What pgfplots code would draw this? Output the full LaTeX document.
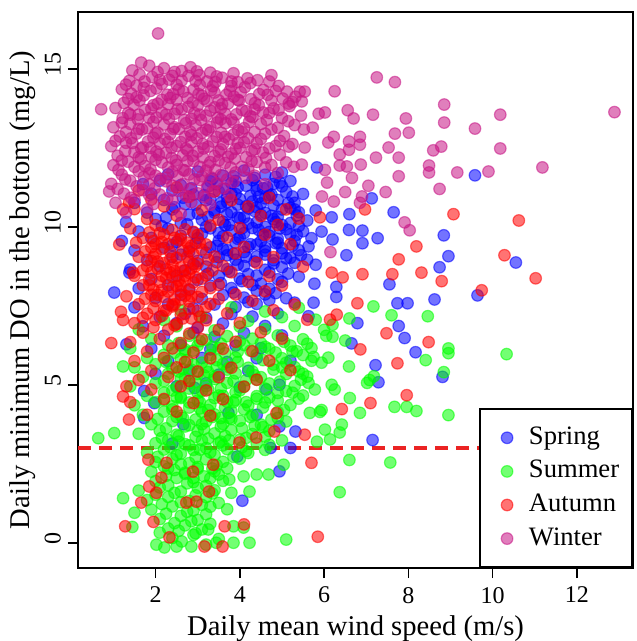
\documentclass[border=0pt]{standalone}
\usepackage{fontspec}
\setmainfont{Liberation Serif}
\usepackage{pgfplots}
\pgfplotsset{compat=1.18}

\definecolor{spring}{RGB}{0,0,255}
\definecolor{summer}{RGB}{0,255,0}
\definecolor{autumn}{RGB}{255,0,0}
\definecolor{winter}{RGB}{199,21,133}
\definecolor{doline}{RGB}{235,35,35}

\pgfplotsset{
  season/.style={only marks, mark=*, mark size=2.9pt, color=#1,
    mark options={draw=#1, fill=#1, draw opacity=0.55, fill opacity=0.55, line width=0.6pt}},
}
\newcommand{\legfont}{\fontsize{13.3}{16}\selectfont}

\begin{document}
\begin{tikzpicture}
\begin{axis}[
  scale only axis, width=277.5pt, height=278pt,
  xmin=0.16, xmax=13.33, ymin=-0.8, ymax=16.8,
  xtick={2,4,6,8,10,12}, ytick={0,5,10,15},
  tick align=outside, xtick pos=left, ytick pos=left,
  major tick length=5pt,
  axis line style={line width=0.9pt}, tick style={black, line width=0.8pt},
  /pgf/number format/assume math mode=true,
  ticklabel style={font=\fontsize{12}{14}\selectfont},
  yticklabel style={rotate=90, anchor=south, xshift=2pt},
  xticklabel style={yshift=-1pt},
  xlabel={Daily mean wind speed (m/s)},
  ylabel={Daily minimum DO in the bottom (mg/L)},
  label style={font=\fontsize{14.3}{17}\selectfont},
  xlabel style={at={(axis description cs:0.5,0)}, anchor=center, yshift=-30.5pt},
  ylabel style={at={(axis description cs:0,0.5)}, anchor=center, yshift=27.5pt},
  legend style={at={(1,0)}, anchor=south east, draw=black, line width=0.9pt, fill=white,
    inner xsep=4.5pt, inner ysep=6pt, row sep=0.3pt,
    nodes={inner sep=2pt, text height=9.5pt, text depth=3pt}},
  legend cell align=left,
  legend image code/.code={\path (0pt,0pt) (17pt,0pt); \draw[#1] plot coordinates {(8.5pt,0pt)};},
]
\coordinate (sw) at (rel axis cs:0,0);
\coordinate (ne) at (rel axis cs:1,1);

% Spring
\addplot[season=spring] coordinates {
(9.58,11.63) (8.84,9.73) (10.55,8.87) (9.64,7.83) (8.95,9.07) (8.74,8.72) (7.65,10.46) (7.13,10.90)
(7.27,9.64) (6.91,9.88) (6.91,9.48) (6.53,9.10) (6.60,10.40) (6.18,10.30) (6.20,9.60) (7.55,8.18)
(6.29,8.10) (6.29,7.78) (5.77,8.20) (7.74,7.58) (7.98,7.58) (8.62,7.70) (6.79,6.95) (7.77,6.86)
(7.91,6.48) (6.65,6.31) (8.17,6.03) (7.22,5.62) (8.81,5.25) (7.29,5.08) (7.15,3.25) (5.83,11.88)
(5.75,7.60) (5.63,7.17) (6.59,9.90) (5.94,9.85) (5.63,9.38) (5.80,8.80) (1.73,4.80) (4.94,3.68)
(5.32,3.52) (5.20,3.00) (4.73,3.00) (4.94,2.26) (4.06,1.33) (3.94,2.73) (2.40,3.14) (2.66,3.75)
(1.73,3.95) (1.97,4.42) (2.93,4.90) (3.73,4.11) (4.40,4.05) (4.63,4.85) (4.94,5.00) (1.02,7.92)
(1.38,8.55) (1.31,6.28)
(2.30,11.66) (3.00,11.75) (3.60,11.62) (4.10,11.78) (4.60,11.65) (5.00,11.72)
(1.70,11.35) (2.10,11.46) (2.60,11.32) (3.30,11.44) (3.80,11.38) (4.30,11.48) (4.80,11.36) (5.20,11.45)
(1.90,11.05) (2.40,11.15) (2.90,11.02) (3.50,11.12) (3.90,11.04) (4.40,11.16) (4.70,11.00) (5.10,11.10) (5.50,11.04)
(1.50,10.76) (2.20,10.85) (2.70,10.72) (3.20,10.84) (3.70,10.78) (4.00,10.88) (4.50,10.74) (4.90,10.85) (5.30,10.76)
(1.80,10.45) (2.40,10.55) (3.00,10.42) (3.40,10.52) (3.80,10.46) (4.20,10.58) (4.60,10.44) (5.00,10.55) (5.40,10.46) (5.80,10.52)
(1.30,10.15) (2.00,10.25) (2.60,10.12) (3.10,10.22) (3.60,10.16) (4.00,10.28) (4.40,10.14) (4.80,10.24) (5.20,10.12) (5.60,10.20)
(1.60,9.85) (2.30,9.94) (2.90,9.82) (3.30,9.95) (3.80,9.88) (4.30,9.96) (4.70,9.84) (5.10,9.92) (5.50,9.86)
(1.20,9.55) (1.90,9.65) (2.50,9.52) (3.00,9.64) (3.50,9.56) (4.00,9.66) (4.50,9.54) (4.90,9.62) (5.30,9.55) (5.70,9.64)
(1.50,9.25) (2.20,9.34) (2.80,9.22) (3.30,9.35) (3.70,9.26) (4.20,9.36) (4.60,9.24) (5.00,9.32) (5.40,9.26)
(1.80,8.95) (2.40,9.05) (3.00,8.92) (3.50,9.04) (3.90,8.96) (4.40,9.06) (4.80,8.94) (5.20,9.02) (5.60,8.96)
(1.40,8.65) (2.10,8.75) (2.70,8.62) (3.20,8.74) (3.70,8.66) (4.10,8.76) (4.60,8.64) (5.00,8.72)
(1.90,8.35) (2.50,8.45) (3.00,8.32) (3.50,8.44) (4.00,8.36) (4.40,8.46) (4.90,8.34) (5.40,8.42)
(1.60,8.05) (2.30,8.15) (2.80,8.02) (3.30,8.14) (3.80,8.06) (4.30,8.16) (4.70,8.04)
(2.00,7.75) (2.60,7.85) (3.10,7.72) (3.60,7.84) (4.10,7.76) (4.60,7.86) (5.10,7.74)
(1.50,7.45) (2.30,7.55) (2.90,7.42) (3.40,7.54) (3.90,7.46) (4.40,7.56)
(2.10,7.15) (2.70,7.25) (3.20,7.12) (3.80,7.24) (4.30,7.16) (4.90,7.26)
(1.70,6.85) (2.50,6.95) (3.00,6.82) (3.60,6.94) (4.60,6.86)
(2.20,6.55) (2.90,6.65) (3.40,6.52) (4.10,6.64) (5.00,6.56)
(1.90,6.15) (2.60,6.25) (3.30,6.12) (3.90,6.24) (4.50,6.16)
(2.30,5.75) (3.10,5.85) (3.70,5.72) (4.40,5.84) (5.20,5.76)
(2.00,5.35) (2.80,5.45) (3.50,5.32) (4.20,5.44)
(2.50,4.95) (3.20,5.05) (4.00,4.92)
(3.65,10.05) (4.15,10.65) (4.55,9.75) (3.95,11.25) (4.75,10.35) (4.25,9.45) (3.85,9.15) (4.45,10.95)
(3.55,10.75) (4.95,9.95) (4.05,9.95) (4.65,11.25)
(3.35,11.52) (3.85,11.60) (4.35,11.55) (4.85,11.58)
(2.85,11.22) (3.25,11.28) (3.65,11.20) (4.15,11.30) (4.55,11.22) (5.00,11.28)
(2.65,10.92) (3.15,11.00) (3.70,10.94) (4.25,10.98) (4.60,10.90) (5.25,10.96)
(2.45,10.62) (2.95,10.70) (3.55,10.64) (3.95,10.70) (4.40,10.62) (4.80,10.68) (5.20,10.60)
(2.25,10.30) (2.80,10.38) (3.25,10.32) (3.70,10.40) (4.10,10.30) (4.50,10.38) (4.90,10.32) (5.35,10.36)
(2.15,10.02) (2.75,10.08) (3.20,10.00) (3.75,10.06) (4.20,10.10) (4.60,10.00) (5.00,10.06) (5.40,10.02)
(2.60,9.72) (3.10,9.78) (3.60,9.70) (4.10,9.80) (4.70,9.72) (5.20,9.76)
(2.40,9.42) (2.95,9.48) (3.45,9.40) (3.90,9.50) (4.40,9.44) (4.85,9.48) (5.25,9.40)
(2.60,9.12) (3.20,9.18) (3.70,9.10) (4.10,9.20) (4.60,9.12) (5.00,9.16) (5.45,9.10)
(2.90,8.82) (3.45,8.88) (3.95,8.80) (4.35,8.90) (4.80,8.84) (5.30,8.86)
(3.25,8.52) (3.75,8.58) (4.20,8.50) (4.70,8.56) (5.15,8.52)
(3.55,8.22) (4.05,8.28) (4.50,8.20) (5.00,8.26)
(3.85,7.92) (4.40,7.98) (4.85,7.90)
(4.20,7.62) (4.70,7.68) (5.30,7.60)
(3.45,11.35) (3.90,11.45) (4.40,11.30) (4.95,11.40)
(3.30,10.88) (3.80,11.05) (4.30,10.80) (4.75,11.02) (5.15,10.75)
(3.40,10.45) (3.95,10.30) (4.35,10.50) (4.85,10.15) (5.30,10.55)
(3.50,9.80) (3.95,9.62) (4.45,9.90) (4.90,9.50) (5.35,9.75)
(3.60,9.30) (4.15,9.05) (4.60,9.35) (5.10,9.00)
};
\addlegendentry{\legfont Spring}

% Summer
\addplot[season=summer] coordinates {
(0.64,3.31) (1.02,3.47) (1.23,1.41) (1.50,0.95) (1.45,0.50) (2.02,-0.06) (2.21,-0.15) (2.50,-0.12)
(2.62,0.04) (2.85,-0.12) (3.20,-0.06) (3.44,0.00) (3.85,0.00) (4.23,0.00) (3.25,0.42) (3.85,0.52)
(4.09,0.48) (5.10,0.10) (6.37,1.60) (6.60,2.62) (3.80,1.58) (4.23,1.62) (3.75,2.00) (4.09,2.10)
(4.40,2.16) (4.68,2.16) (5.04,2.47) (5.83,3.20) (6.14,3.27) (6.02,3.58) (6.42,3.74) (6.37,3.49)
(6.85,4.11) (6.61,4.58) (5.90,4.14) (5.66,4.11) (6.18,5.00) (7.02,5.06) (1.23,5.58) (10.33,5.97)
(8.95,6.15) (8.95,6.00) (8.41,5.78) (8.84,5.40) (7.08,5.15) (7.67,4.30) (7.96,4.30) (8.19,4.17)
(8.95,4.04) (7.17,7.48) (7.60,7.20) (8.46,7.17) (5.75,5.88) (5.94,5.70) (5.63,5.06) (5.78,4.85)
(6.25,4.85) (6.59,5.58) (7.18,5.27) (5.94,4.20) (7.57,2.54) (6.20,6.90) (6.50,6.40) (6.05,6.55) (6.60,7.10)
(2.60,7.35) (3.80,7.45) (4.60,7.32) (5.40,7.44)
(2.20,7.05) (3.10,7.15) (4.20,7.02) (5.00,7.14) (5.80,7.06)
(1.60,6.75) (2.50,6.85) (3.40,6.72) (4.00,6.84) (4.60,6.76) (5.30,6.86) (6.00,6.74)
(1.90,6.45) (2.80,6.55) (3.20,6.42) (3.70,6.54) (4.30,6.46) (4.90,6.56) (5.50,6.44) (6.20,6.52)
(1.40,6.15) (2.30,6.25) (2.70,6.12) (3.00,6.24) (3.50,6.16) (4.10,6.26) (4.70,6.14) (5.20,6.24) (5.70,6.16)
(1.80,5.85) (2.20,5.95) (2.60,5.82) (3.30,5.94) (3.90,5.86) (4.40,5.96) (5.00,5.84) (5.50,5.94) (6.10,5.86)
(1.50,5.55) (2.00,5.65) (2.40,5.52) (2.90,5.64) (3.20,5.56) (3.60,5.66) (4.20,5.54) (4.80,5.64) (5.30,5.56)
(1.70,5.25) (2.30,5.35) (2.70,5.22) (3.00,5.34) (3.40,5.26) (3.90,5.36) (4.50,5.24) (5.10,5.34) (5.60,5.26)
(1.40,4.95) (2.00,5.05) (2.50,4.92) (2.80,5.04) (3.20,4.96) (3.70,5.06) (4.10,4.94) (4.70,5.04) (5.30,4.96)
(1.80,4.65) (2.20,4.75) (2.60,4.62) (3.00,4.74) (3.50,4.66) (3.90,4.76) (4.40,4.64) (4.90,4.74) (5.50,4.66)
(1.50,4.35) (2.00,4.45) (2.40,4.32) (2.80,4.44) (3.30,4.36) (3.70,4.46) (4.20,4.34) (4.60,4.44) (5.20,4.36)
(1.70,4.05) (2.20,4.15) (2.60,4.02) (3.10,4.14) (3.40,4.06) (3.80,4.16) (4.30,4.04) (4.90,4.14)
(1.90,3.75) (2.40,3.85) (2.80,3.72) (3.20,3.84) (3.60,3.76) (4.00,3.86) (4.50,3.74) (5.10,3.84)
(1.60,3.45) (2.10,3.55) (2.50,3.42) (3.00,3.54) (3.40,3.46) (3.80,3.56) (4.30,3.44) (4.70,3.54)
(2.00,3.15) (2.30,3.25) (2.70,3.12) (3.10,3.24) (3.50,3.16) (4.00,3.26) (4.40,3.14) (5.00,3.24)
(1.80,2.85) (2.20,2.95) (2.60,2.82) (2.90,2.94) (3.30,2.86) (3.70,2.96) (4.20,2.84) (4.60,2.94)
(2.00,2.55) (2.40,2.65) (2.80,2.52) (3.20,2.64) (3.60,2.56) (4.00,2.66)
(1.90,2.25) (2.30,2.35) (2.70,2.22) (3.00,2.34) (3.40,2.26) (3.70,2.36)
(2.00,1.95) (2.50,2.05) (2.90,1.92) (3.30,2.04) (3.60,1.96)
(1.60,1.65) (2.10,1.75) (2.60,1.62) (3.00,1.74) (3.40,1.66)
(1.80,1.35) (2.30,1.45) (2.80,1.32) (3.20,1.44)
(1.90,1.05) (2.40,1.15) (2.90,1.02) (3.30,1.14) (3.70,1.06)
(2.10,0.75) (2.60,0.85) (3.00,0.72)
(2.30,0.45) (2.70,0.55) (3.10,0.42)
(2.40,0.15) (2.90,0.25) (3.50,0.12)
(3.05,4.25) (3.45,5.55) (3.85,4.45) (2.95,3.35) (3.55,3.95) (4.15,5.15) (3.25,4.85) (3.75,3.25)
(2.55,6.32) (3.05,6.38) (3.55,6.30) (4.00,6.38) (4.50,6.32) (5.05,6.36) (5.60,6.30)
(2.45,6.02) (2.90,6.08) (3.65,6.00) (4.25,6.08) (4.85,6.02) (5.35,6.06)
(2.25,5.72) (2.75,5.78) (3.10,5.70) (3.45,5.78) (3.95,5.72) (4.55,5.78) (5.10,5.70) (5.70,5.76)
(2.55,5.42) (2.85,5.48) (3.25,5.40) (3.70,5.48) (4.30,5.42) (4.80,5.48) (5.40,5.42)
(2.20,5.12) (2.60,5.18) (2.95,5.10) (3.40,5.18) (3.85,5.12) (4.40,5.16) (4.95,5.10) (5.45,5.16)
(2.40,4.82) (2.80,4.88) (3.10,4.80) (3.55,4.88) (4.00,4.82) (4.60,4.88) (5.10,4.80)
(2.20,4.52) (2.60,4.58) (3.00,4.50) (3.40,4.58) (3.90,4.52) (4.40,4.56) (4.90,4.50) (5.40,4.56)
(2.40,4.22) (2.80,4.28) (3.25,4.20) (3.65,4.28) (4.10,4.22) (4.55,4.28) (5.05,4.20)
(2.05,3.92) (2.50,3.98) (2.95,3.90) (3.35,3.98) (3.80,3.92) (4.25,3.98) (4.75,3.90)
(2.25,3.62) (2.70,3.68) (3.15,3.60) (3.55,3.68) (4.05,3.62) (4.55,3.66)
(2.15,3.32) (2.55,3.38) (3.25,3.30) (3.65,3.38) (4.15,3.32) (4.60,3.36)
(2.35,3.02) (2.80,3.08) (3.20,3.00) (3.60,3.08) (4.05,3.02)
(2.05,2.72) (2.50,2.78) (2.95,2.70) (3.40,2.78) (3.85,2.72)
(2.20,2.42) (2.60,2.48) (3.00,2.40) (3.45,2.46)
(2.25,2.12) (2.70,2.18) (3.15,2.10) (3.50,2.16)
(2.30,1.82) (2.75,1.88) (3.20,1.80)
(2.00,1.52) (2.45,1.58) (2.95,1.50) (3.35,1.56)
(2.15,1.22) (2.60,1.28) (3.10,1.20) (3.50,1.26)
(2.25,0.92) (2.75,0.98) (3.20,0.90)
(2.45,0.62) (2.85,0.68) (3.30,0.60)
(2.10,0.32) (2.55,0.38) (2.95,0.30)
(2.70,6.05) (3.35,6.20) (3.95,6.05) (4.60,6.20) (5.25,6.05)
(2.65,5.50) (3.15,5.30) (3.75,5.55) (4.35,5.30) (5.00,5.55) (5.50,5.35)
(2.50,4.60) (3.05,4.45) (3.60,4.65) (4.15,4.45) (4.70,4.60) (5.25,4.75)
(2.65,3.95) (3.10,3.75) (3.75,3.95) (4.35,3.70) (4.90,3.95)
(2.55,3.20) (3.05,2.95) (3.55,3.20) (4.15,2.90) (4.70,3.10)
(2.45,2.30) (2.90,2.05) (3.35,2.35)
};
\addlegendentry{\legfont Summer}

% Autumn
\addplot[season=autumn] coordinates {
(9.07,10.40) (10.62,10.20) (10.28,9.10) (11.02,8.37) (9.74,7.99) (8.19,9.38) (8.79,8.28) (8.31,8.55)
(7.77,8.97) (6.91,8.50) (6.44,8.40) (7.62,8.50) (6.79,7.58) (7.48,6.63) (8.48,6.35) (6.86,6.12)
(7.74,5.68) (7.96,4.67) (7.10,4.42) (6.42,4.23) (5.70,2.53) (5.85,0.19) (1.28,0.52) (0.95,6.32)
(6.97,10.55) (6.14,7.06) (6.30,7.22) (6.18,8.55) (5.90,10.30) (4.87,4.10) (1.95,0.66) (1.66,1.27)
(1.85,1.78) (2.02,1.58) (2.73,1.27) (2.97,1.30) (2.89,2.25) (3.37,2.47) (3.27,1.62) (2.33,0.17)
(3.16,-0.12) (3.59,-0.12) (3.64,0.52) (4.10,0.58) (2.26,2.53) (2.14,2.06) (1.83,2.63) (3.99,3.17)
(4.82,3.52) (5.54,3.42) (4.39,3.33) (1.37,3.90) (1.23,4.63) (1.31,4.95) (1.18,7.31) (1.23,7.05)
(1.31,7.80) (1.47,8.55) (1.23,10.55) (1.37,10.77) (1.14,9.44) (1.54,9.50)
(1.60,11.15) (2.50,11.25) (3.40,11.12)
(1.90,10.86) (2.80,10.95) (3.80,10.84) (4.70,10.92)
(1.50,10.56) (2.20,10.65) (3.10,10.52) (4.20,10.64) (5.10,10.55)
(1.80,10.25) (2.50,10.35) (3.50,10.22) (4.50,10.34) (5.40,10.26)
(1.40,9.95) (2.00,10.05) (2.70,9.92) (3.30,10.04) (4.00,9.96) (4.90,10.06)
(1.70,9.65) (2.20,9.75) (2.60,9.62) (3.00,9.74) (3.70,9.66) (4.60,9.75)
(1.90,9.35) (2.30,9.45) (2.80,9.32) (3.20,9.44) (4.10,9.36) (5.20,9.45)
(1.60,9.05) (2.00,9.15) (2.50,9.02) (2.90,9.14) (3.40,9.06) (3.90,9.16) (4.80,9.04)
(1.80,8.75) (2.20,8.85) (2.60,8.72) (3.00,8.84) (3.60,8.76) (4.40,8.86) (5.50,8.74)
(1.50,8.45) (1.90,8.55) (2.40,8.42) (2.80,8.54) (3.20,8.46) (3.80,8.56) (4.70,8.44)
(1.70,8.15) (2.10,8.25) (2.50,8.12) (2.90,8.24) (3.50,8.16) (4.20,8.26) (5.00,8.14)
(1.90,7.85) (2.30,7.95) (2.70,7.82) (3.10,7.94) (3.90,7.86) (4.60,7.96)
(1.60,7.55) (2.00,7.65) (2.40,7.52) (2.80,7.64) (3.30,7.56) (4.30,7.66) (5.30,7.54)
(1.80,7.25) (2.20,7.35) (2.60,7.22) (3.00,7.34) (3.70,7.26) (4.80,7.36)
(1.50,6.95) (2.00,7.05) (2.50,6.92) (3.20,7.04) (4.00,6.96) (5.60,7.06)
(1.70,6.65) (2.30,6.75) (2.80,6.62) (3.50,6.74) (4.50,6.66)
(1.40,6.35) (2.10,6.45) (2.60,6.32) (3.10,6.44) (3.90,6.36) (5.00,6.46)
(1.80,6.05) (2.40,6.15) (2.90,6.02) (3.60,6.14) (4.30,6.06)
(1.50,5.75) (2.20,5.85) (2.70,5.72) (3.30,5.84) (4.70,5.76)
(1.90,5.45) (2.50,5.55) (3.00,5.42) (3.80,5.54) (5.20,5.46)
(1.60,5.15) (2.30,5.25) (2.80,5.12) (3.50,5.24) (4.40,5.16)
(1.90,4.85) (2.60,4.95) (3.20,4.82) (4.10,4.94)
(1.40,4.45) (2.20,4.55) (2.90,4.42) (3.60,4.54)
(1.80,4.05) (2.50,4.15) (3.30,4.02)
(2.05,8.90) (2.35,9.20) (2.65,8.60) (2.15,8.00) (2.45,7.70) (2.75,9.50) (2.55,8.30) (2.25,7.35)
(1.95,9.55) (2.85,7.10) (2.35,8.55) (2.60,7.95) (2.10,9.80) (2.95,8.75) (1.85,8.15)
(1.85,9.82) (2.40,9.90) (2.90,9.84)
(2.15,9.52) (2.55,9.58) (3.05,9.50)
(1.75,9.22) (2.15,9.30) (2.65,9.24) (3.10,9.28)
(1.90,8.92) (2.35,8.98) (2.80,8.90) (3.25,8.96)
(1.70,8.62) (2.05,8.68) (2.45,8.60) (2.85,8.68) (3.35,8.62)
(1.85,8.32) (2.25,8.38) (2.70,8.30) (3.10,8.36)
(1.95,8.02) (2.40,8.08) (2.80,8.00) (3.30,8.06)
(1.75,7.72) (2.20,7.78) (2.60,7.70) (3.00,7.78) (3.50,7.72)
(1.95,7.42) (2.40,7.48) (2.80,7.40) (3.20,7.46)
(1.70,7.12) (2.15,7.18) (2.65,7.10) (3.05,7.16)
(1.95,6.82) (2.45,6.88) (3.00,6.80)
(2.00,9.45) (2.45,9.65) (2.85,9.40) (1.95,9.05) (2.40,8.80) (2.75,9.05) (2.15,8.45) (2.60,8.15)
(2.95,8.40) (2.05,7.85) (2.45,7.55) (2.85,7.80) (2.25,8.65) (2.70,8.45)
};
\addlegendentry{\legfont Autumn}

% Winter
\addplot[season=winter] coordinates {
(2.06,16.12) (0.71,13.72) (0.90,11.12) (1.66,15.20) (1.85,15.10) (2.83,15.05) (3.04,14.80) (2.45,14.90)
(4.18,14.70) (4.75,14.80) (7.25,14.73) (7.68,14.58) (6.25,14.29) (8.85,13.87) (10.18,13.55) (12.89,13.63)
(7.16,13.55) (6.56,13.69) (6.70,13.43) (7.94,13.43) (8.85,13.30) (9.58,13.11) (8.01,12.98) (7.68,12.95)
(10.18,12.48) (8.78,12.54) (8.59,12.42) (7.53,12.51) (7.77,12.19) (7.23,12.19) (6.87,11.97) (8.49,11.94)
(8.49,11.72) (9.16,11.72) (9.90,11.75) (11.18,11.88) (7.77,11.60) (6.85,12.85) (6.85,12.60) (6.59,12.70)
(6.59,12.44) (6.37,12.29) (6.37,11.94) (6.23,12.85) (6.10,12.67) (6.02,13.62) (5.87,13.58) (5.73,13.14)
(5.42,14.28) (5.54,14.28) (6.54,11.91) (6.02,11.80) (7.46,11.10) (7.05,11.30) (7.91,10.14) (8.03,9.89)
(6.15,9.20) (8.74,11.20) (5.16,13.90) (5.47,13.97) (5.52,13.08) (5.16,12.54) (5.54,12.51) (5.28,11.90)
(5.47,11.97) (5.95,10.96) (6.07,11.40) (6.23,10.80) (6.50,11.10) (6.66,11.55) (6.85,10.76) (6.90,10.96)
(1.45,14.95) (2.20,15.02) (2.62,14.93) (3.30,14.88)
(1.38,14.62) (1.92,14.74) (2.32,14.66) (2.78,14.78) (3.22,14.60) (3.58,14.72) (3.95,14.58) (4.42,14.64)
(1.20,14.35) (1.55,14.47) (2.02,14.38) (2.50,14.50) (2.90,14.34) (3.36,14.45) (3.76,14.30) (4.12,14.42) (4.56,14.33) (4.92,14.46) (5.12,14.28)
(1.35,14.05) (1.72,14.16) (2.15,14.02) (2.42,14.20) (2.76,14.08) (3.10,14.15) (3.50,14.00) (3.86,14.12) (4.26,14.04) (4.66,14.18) (5.02,14.06) (5.32,14.12)
(1.05,13.76) (1.48,13.86) (1.90,13.74) (2.30,13.88) (2.62,13.72) (3.00,13.84) (3.40,13.78) (3.72,13.90) (4.05,13.70) (4.45,13.85) (4.80,13.75) (5.18,13.82)
(1.22,13.44) (1.60,13.55) (2.02,13.46) (2.45,13.58) (2.85,13.42) (3.20,13.52) (3.55,13.40) (3.92,13.56) (4.30,13.47) (4.70,13.60) (5.00,13.45) (5.45,13.52)
(1.00,13.15) (1.40,13.26) (1.80,13.12) (2.20,13.24) (2.55,13.10) (2.95,13.22) (3.30,13.16) (3.66,13.28) (4.10,13.12) (4.50,13.25) (4.90,13.14) (5.30,13.22)
(1.15,12.86) (1.55,12.95) (1.95,12.82) (2.35,12.94) (2.70,12.85) (3.10,12.98) (3.45,12.84) (3.85,12.92) (4.20,12.80) (4.60,12.95) (5.05,12.87)
(0.95,12.55) (1.30,12.66) (1.70,12.52) (2.10,12.64) (2.50,12.56) (2.85,12.68) (3.25,12.54) (3.60,12.62) (4.00,12.50) (4.40,12.65) (4.85,12.56) (5.25,12.62)
(1.10,12.25) (1.50,12.36) (1.90,12.22) (2.25,12.34) (2.65,12.26) (3.00,12.38) (3.40,12.24) (3.80,12.32) (4.15,12.20) (4.55,12.35) (4.95,12.28)
(1.00,11.95) (1.35,12.06) (1.75,11.92) (2.15,12.04) (2.50,11.96) (2.90,12.08) (3.25,11.94) (3.65,12.02) (4.05,11.90) (4.40,12.05) (4.75,11.96) (5.10,12.04)
(1.20,11.65) (1.60,11.76) (2.00,11.62) (2.40,11.74) (2.80,11.66) (3.20,11.78) (3.55,11.64) (3.90,11.72) (4.35,11.62) (4.90,11.70)
(0.95,11.36) (1.40,11.46) (1.85,11.34) (2.25,11.44) (2.65,11.35) (3.05,11.48) (3.45,11.38) (3.85,11.42) (4.60,11.35)
(1.25,11.05) (1.70,11.16) (2.10,11.02) (2.55,11.14) (3.00,11.06) (3.35,11.12) (3.75,11.00)
(1.05,10.76) (1.50,10.86) (1.95,10.72) (2.40,10.84) (2.85,10.78) (3.30,10.70)
(1.30,10.45) (1.80,10.55) (2.60,10.42)
(1.62,14.82) (2.05,14.90) (2.40,14.78) (2.98,14.92) (3.45,14.76) (3.85,14.86)
(1.30,14.50) (1.74,14.60) (2.15,14.52) (2.62,14.63) (3.05,14.49) (3.42,14.58) (3.80,14.46) (4.25,14.55) (4.70,14.60)
(1.42,14.22) (1.88,14.30) (2.28,14.18) (2.66,14.28) (3.02,14.20) (3.32,14.32) (3.68,14.18) (4.02,14.26) (4.46,14.20) (4.85,14.30)
(1.25,13.92) (1.62,14.00) (2.05,13.90) (2.50,14.02) (2.88,13.94) (3.22,13.98) (3.58,13.88) (3.98,14.00) (4.36,13.92) (4.75,14.00) (5.25,13.95)
(1.35,13.60) (1.75,13.70) (2.15,13.62) (2.52,13.72) (2.92,13.60) (3.30,13.68) (3.65,13.58) (4.15,13.66) (4.55,13.62) (4.92,13.70)
(1.20,13.30) (1.58,13.40) (1.95,13.32) (2.32,13.42) (2.72,13.28) (3.08,13.38) (3.46,13.30) (3.80,13.40) (4.22,13.32) (4.64,13.38) (5.15,13.34)
(1.30,13.00) (1.68,13.08) (2.05,12.98) (2.42,13.10) (2.82,13.02) (3.20,13.08) (3.56,12.98) (3.96,13.06) (4.35,13.00) (4.75,13.08)
(1.05,12.72) (1.42,12.80) (1.82,12.70) (2.22,12.78) (2.60,12.68) (2.98,12.80) (3.36,12.70) (3.74,12.78) (4.10,12.68) (4.50,12.78) (4.95,12.72)
(1.28,12.40) (1.66,12.48) (2.02,12.38) (2.38,12.50) (2.76,12.42) (3.14,12.48) (3.50,12.38) (3.90,12.46) (4.28,12.40) (4.70,12.48)
(1.20,12.10) (1.60,12.20) (2.00,12.12) (2.38,12.18) (2.76,12.08) (3.12,12.20) (3.50,12.10) (3.88,12.16) (4.28,12.08) (4.62,12.18)
(1.12,11.80) (1.50,11.90) (1.88,11.82) (2.30,11.88) (2.66,11.80) (3.05,11.90) (3.42,11.80) (3.78,11.88) (4.20,11.82) (4.60,11.88)
(1.28,11.50) (1.72,11.58) (2.12,11.52) (2.52,11.60) (2.92,11.50) (3.32,11.56) (3.70,11.50) (4.15,11.55)
(1.10,11.20) (1.55,11.28) (1.98,11.22) (2.40,11.30) (2.82,11.20) (3.22,11.26) (3.60,11.22)
(1.42,10.92) (1.85,11.00) (2.28,10.90) (2.72,10.98) (3.15,10.94)
(1.72,14.40) (2.10,14.65) (2.55,14.35) (2.95,14.62) (3.40,14.25) (3.80,14.60)
(1.55,14.10) (1.95,13.85) (2.35,14.08) (2.78,13.80) (3.15,14.05) (3.55,13.75) (3.95,14.02) (4.35,13.72)
(1.40,13.55) (1.85,13.45) (2.25,13.55) (2.68,13.38) (3.05,13.55) (3.48,13.45) (3.85,13.30) (4.25,13.50)
(1.60,13.10) (2.00,12.95) (2.45,13.15) (2.85,12.90) (3.25,13.05) (3.65,12.85) (4.05,13.00)
(1.45,12.65) (1.88,12.50) (2.30,12.68) (2.72,12.48) (3.12,12.62) (3.55,12.45) (3.95,12.65) (4.35,12.45)
(1.65,12.15) (2.08,12.28) (2.48,12.10) (2.88,12.25) (3.30,12.05) (3.72,12.22)
(1.85,11.70) (2.25,11.55) (2.70,11.78) (3.10,11.60)
};
\addlegendentry{\legfont Winter}

% DO threshold
\addplot[doline, line width=1.6pt, dash pattern=on 6.5pt off 4pt, forget plot]
  coordinates {(0.16,3) (13.33,3)};
\end{axis}
\pgfresetboundingbox
\path ([xshift=-39pt,yshift=-36.5pt]sw) rectangle ([xshift=1.5pt,yshift=6pt]ne);
\end{tikzpicture}
\end{document}
